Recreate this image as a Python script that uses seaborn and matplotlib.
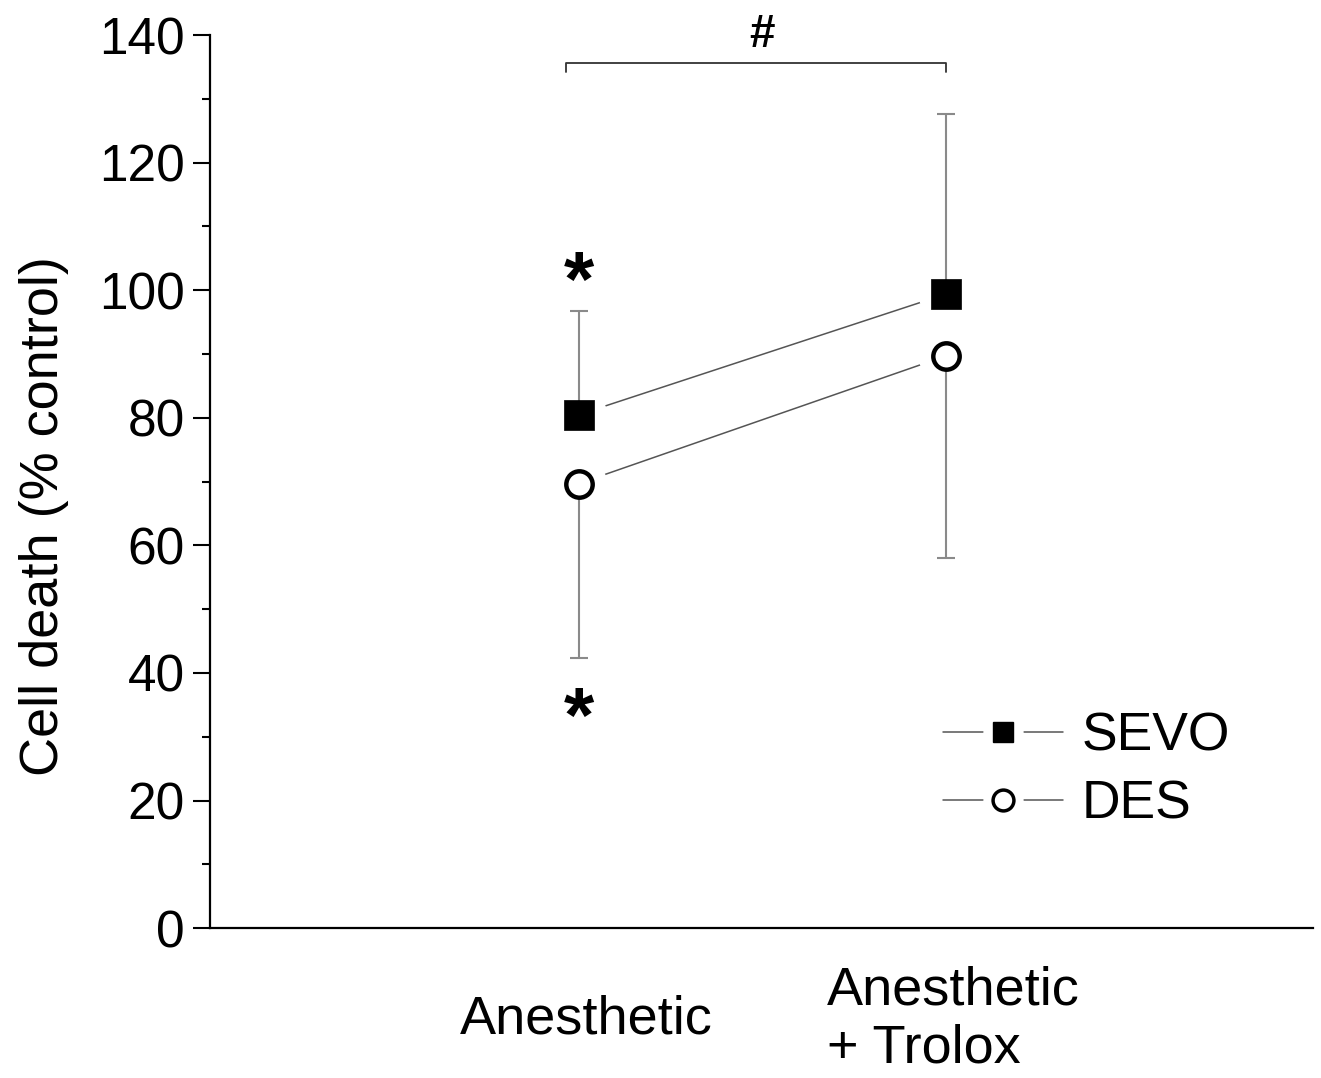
import matplotlib

matplotlib.use("Agg")
import matplotlib.pyplot as plt
import matplotlib.transforms as mtransforms
import numpy as np
import pandas as pd
import seaborn as sns
from matplotlib.legend_handler import HandlerTuple
from matplotlib.lines import Line2D
from matplotlib.ticker import MultipleLocator

# data
categories = ["Anesthetic", "Anesthetic\n+ Trolox"]
sevo_mean = [80.5, 99.4]
sevo_err = [16.2, 28.2]
des_mean = [69.7, 89.7]
des_err = [27.4, 31.6]

df = pd.DataFrame(
    {
        "pos": list(range(len(categories))) * 2,
        "group": ["SEVO"] * len(categories) + ["DES"] * len(categories),
        "mean": sevo_mean + des_mean,
        "err": sevo_err + des_err,
    }
)

sns.set_theme(style="ticks")
plt.rcParams["font.family"] = ["Liberation Sans", "DejaVu Sans"]
plt.rcParams["text.color"] = "black"
plt.rcParams["axes.labelcolor"] = "black"
plt.rcParams["xtick.color"] = "black"
plt.rcParams["ytick.color"] = "black"

fig = plt.figure(figsize=(13.21, 10.78), dpi=100)
ax = fig.add_axes([0.159, 0.139, 0.835, 0.8285])

# connecting lines
sns.lineplot(
    data=df, x="pos", y="mean", hue="group",
    palette={"SEVO": "#555555", "DES": "#555555"},
    linewidth=1.1, legend=False, ax=ax, zorder=1,
)

# white halo so the lines stop short of the markers
ax.plot(df["pos"], df["mean"], ls="none", marker="o", ms=40,
        mfc="white", mec="none", zorder=2)

# one-sided error bars: SEVO up, DES down
sevo = df[df["group"] == "SEVO"]
des = df[df["group"] == "DES"]
ax.errorbar(sevo["pos"], sevo["mean"], yerr=[np.zeros(len(sevo)), sevo["err"]],
            fmt="none", ecolor="#8a8a8a", elinewidth=1.5, capsize=6.5,
            capthick=1.5, zorder=3)
ax.errorbar(des["pos"], des["mean"], yerr=[des["err"], np.zeros(len(des))],
            fmt="none", ecolor="#8a8a8a", elinewidth=1.5, capsize=6.5,
            capthick=1.5, zorder=3)

# markers
sns.scatterplot(data=sevo, x="pos", y="mean", marker="s", s=22 ** 2,
                color="black", edgecolor="black", linewidth=0.5,
                ax=ax, zorder=4, legend=False)
sns.scatterplot(data=des, x="pos", y="mean", marker="o", s=19 ** 2,
                facecolor="white", edgecolor="black", linewidth=3.2,
                ax=ax, zorder=4, legend=False)

# significance marks
ax.text(0.0, 100.8, "*", ha="center", va="center", fontsize=56,
        fontweight="bold")
ax.text(0.0, 32.4, "*", ha="center", va="center", fontsize=56,
        fontweight="bold")
ax.plot([-0.035, -0.035, 1.0, 1.0], [134.2, 135.6, 135.6, 134.2],
        color="#333333", lw=1.3, clip_on=False)
ax.text(0.5, 140.0, "#", ha="center", va="center", fontsize=33,
        fontweight="bold", clip_on=False)

# axes styling
ax.set_xlim(-1.005, 2.0)
ax.set_ylim(0, 140)
ax.yaxis.set_major_locator(MultipleLocator(20))
ax.yaxis.set_minor_locator(MultipleLocator(10))
ax.tick_params(axis="y", which="major", direction="out", length=12,
               width=1.5, labelsize=37, pad=6, colors="black")
ax.tick_params(axis="y", which="minor", direction="out", length=6,
               width=1.5)
ax.set_xticks(range(len(categories)))
ax.set_xticklabels(categories, fontsize=39)
ax.tick_params(axis="x", length=0, pad=66)
shift = mtransforms.ScaledTranslation(7 / 100, 0, fig.dpi_scale_trans)
for lab in ax.get_xticklabels():
    lab.set_verticalalignment("center")
    lab.set_multialignment("left")
    lab.set_transform(lab.get_transform() + shift)

sns.despine(ax=ax)
for side in ["left", "bottom"]:
    ax.spines[side].set_linewidth(1.6)
    ax.spines[side].set_color("black")

ax.set_xlabel("")
ax.set_ylabel("Cell death (% control)", fontsize=39)
ax.yaxis.set_label_coords(-0.128, 0.461)

# legend with gaps around markers
halo = dict(ls="none", marker="o", ms=29, mfc="white", mec="none")
h_sevo = (Line2D([], [], color="#555555", lw=1.1),
          Line2D([], [], **halo),
          Line2D([], [], ls="none", marker="s", ms=15, mfc="black", mec="black"))
h_des = (Line2D([], [], color="#555555", lw=1.1),
         Line2D([], [], **halo),
         Line2D([], [], ls="none", marker="o", ms=15, mfc="white", mec="black",
                mew=2.5))
ax.legend(
    [h_sevo, h_des], ["SEVO", "DES"],
    handler_map={tuple: HandlerTuple(ndivide=1, pad=0)},
    loc="center left", bbox_to_anchor=(943 / 1321, 0.285),
    bbox_transform=fig.transFigure, frameon=False, fontsize=38.5,
    handlelength=2.25, handletextpad=0.35, labelspacing=0.33,
    borderpad=0, borderaxespad=0,
)

fig.savefig("out.png", dpi=100)
